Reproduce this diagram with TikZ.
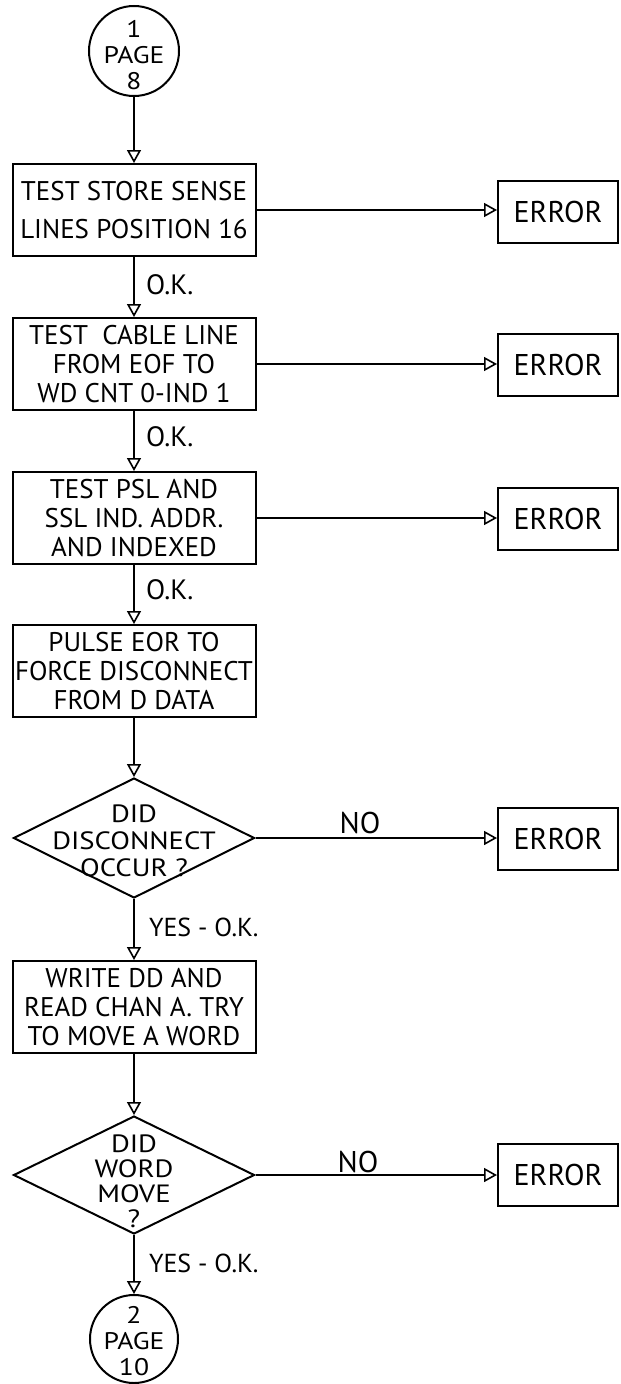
\documentclass[tikz,border=0pt]{standalone}
\usepackage{fontspec}
\setmainfont{PT Sans}
\newfontfamily\widesans[FakeStretch=1.15]{PT Sans}
\usetikzlibrary{shapes.geometric,arrows.meta}
\begin{document}
\begin{tikzpicture}[x=1pt,y=-1pt,
  line width=2pt,
  proc/.style={draw, rectangle, minimum width=243pt, minimum height=92pt, inner sep=0pt, align=center, font=\fontsize{27}{29}\selectfont},
  err/.style={draw, rectangle, minimum width=120pt, minimum height=62pt, inner sep=0pt, font=\fontsize{30}{32}\selectfont},
  dec/.style={draw, diamond, minimum width=241pt, minimum height=120pt, inner sep=0pt},
  conn/.style={draw, circle, minimum size=90pt, inner sep=0pt},
  txt/.style={align=center, inner sep=0pt, font=\widesans\fontsize{25}{27}\selectfont},
  ctxt/.style={align=center, inner sep=0pt, font=\widesans\fontsize{24}{26}\selectfont},
  lbl/.style={inner sep=0pt, anchor=west, font=\fontsize{28}{30}\selectfont},
  flow/.style={-{Triangle[open, length=13pt, width=14pt, line width=1.6pt]}}
]
\useasboundingbox (0,0) rectangle (621,1384);

% connectors (circles)
\node[conn] (c1) at (134,51) {};
\node[ctxt] (c1t) at (134,55) {1\\PAGE\\8};
\node[conn, minimum size=88pt] (c2) at (134,1339) {};
\node[ctxt] (c2t) at (134,1341) {2\\PAGE\\10};

% process boxes
\node[proc, font=\fontsize{27}{38}\selectfont] (b1) at (134,210) {TEST STORE SENSE\\LINES POSITION 16};
\node[proc] (b2) at (134,364) {TEST \ CABLE LINE\\FROM EOF TO\\WD CNT 0-IND 1};
\node[proc] (b3) at (134,518) {TEST PSL AND\\SSL IND. ADDR.\\AND INDEXED};
\node[proc] (b4) at (134,671) {PULSE EOR TO\\FORCE DISCONNECT\\FROM D DATA};
\node[proc] (b5) at (134,1007) {WRITE DD AND\\READ CHAN A. TRY\\TO MOVE A WORD};

% decisions
\node[dec] (d1) at (134,838) {};
\node[txt] (d1t) at (134,841) {DID\\DISCONNECT\\OCCUR ?};
\node[dec, minimum height=118pt] (d2) at (134,1175) {};
\node[txt, font=\widesans\fontsize{25}{25}\selectfont] (d2t) at (134,1181) {DID\\WORD\\MOVE\\?};

% error boxes
\node[err] (e1) at (558,212) {ERROR};
\node[err] (e2) at (558,365) {ERROR};
\node[err] (e3) at (558,519) {ERROR};
\node[err] (e4) at (558,839) {ERROR};
\node[err] (e5) at (558,1175) {ERROR};

% main flow
\draw[flow] (c1) -- (b1);
\draw[flow] (b1) -- (b2);
\draw[flow] (b2) -- (b3);
\draw[flow] (b3) -- (b4);
\draw[flow] (b4) -- (d1);
\draw[flow] (d1) -- (b5);
\draw[flow] (b5) -- (d2);
\draw[flow] (d2) -- (c2);

% error branches
\draw[flow] (b1.east) -- (b1.east -| e1.west);
\draw[flow] (b2.east) -- (b2.east -| e2.west);
\draw[flow] (b3.east) -- (b3.east -| e3.west);
\draw[flow] (d1.east) -- (d1.east -| e4.west);
\draw[flow] (d2.east) -- (d2.east -| e5.west);

% labels
\node[lbl] (l1) at (145,285) {O.K.};
\node[lbl] (l2) at (145,437) {O.K.};
\node[lbl] (l3) at (145,590) {O.K.};
\node[lbl, font=\fontsize{26}{30}\selectfont] (l4) at (148,927) {YES - O.K.};
\node[lbl, font=\fontsize{26}{30}\selectfont] (l5) at (148,1263) {YES - O.K.};
\node[lbl, anchor=center, font=\fontsize{30}{30}\selectfont] (n1) at (360,823) {NO};
\node[lbl, anchor=center, font=\fontsize{30}{30}\selectfont] (n2) at (358,1162) {NO};
\end{tikzpicture}
\end{document}
